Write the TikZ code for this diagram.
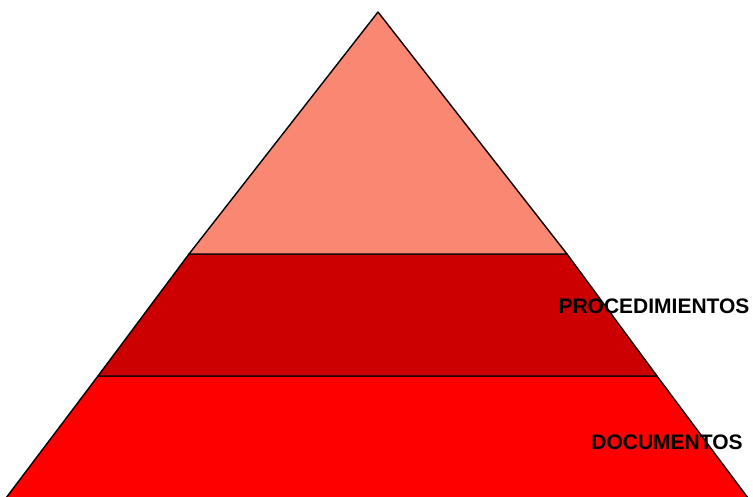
\documentclass[tikz,border=0pt]{standalone}
\usepackage{fontspec}
\setmainfont{Liberation Sans}
\definecolor{salmonband}{RGB}{250,135,114}
\definecolor{darkband}{RGB}{204,0,0}
\definecolor{redband}{RGB}{255,0,0}
\tikzset{
  band/.style={draw=black, line width=1.4pt, line join=round},
  lbl/.style={font=\fontsize{21}{21}\selectfont\bfseries, text=black, inner sep=0pt, anchor=center}
}
\begin{document}
\begin{tikzpicture}[x=1pt,y=-1pt]
\useasboundingbox (0,0) rectangle (753,496);
\coordinate (apex) at (378,12);
\coordinate (l1) at (189,254);
\coordinate (r1) at (567,254);
\coordinate (l2) at (98,376);
\coordinate (r2) at (657,376);
\coordinate (l3) at (6,498);
\coordinate (r3) at (748,498);
\fill[redband] (l2) -- (r2) -- (r3) -- (l3) -- cycle;
\draw[band] (l3) -- (l2) -- (r2) -- (r3);
\fill[darkband] (l1) -- (r1) -- (r2) -- (l2) -- cycle;
\draw[band] (l1) -- (r1) -- (r2) -- (l2) -- cycle;
\fill[salmonband] (apex) -- (r1) -- (l1) -- cycle;
\draw[band] (apex) -- (r1) -- (l1) -- cycle;
\node[lbl] (proc) at (654,306.5) {PROCEDIMIENTOS};
\node[lbl] (docs) at (667,442.5) {DOCUMENTOS};
\end{tikzpicture}
\end{document}
